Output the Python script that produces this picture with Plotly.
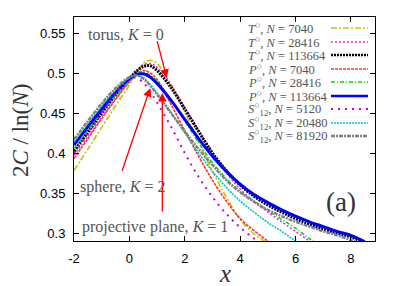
import plotly.graph_objects as go

# ---------------- data ----------------
x_vals = [-2, -1.5, -1, -0.5, 0, 0.25, 0.5, 0.75, 1, 1.5, 2, 2.5, 3, 3.5,
          4, 4.5, 5, 5.5, 6, 6.5, 7, 7.5, 8, 8.5]

def pad(v):
    return v + [None] * (len(x_vals) - len(v))

T_7040 = pad([0.378, 0.405, 0.432, 0.459, 0.485, 0.500, 0.512, 0.516, 0.512, 0.486,
              0.451, 0.414, 0.377, 0.345, 0.317, 0.299, 0.287, 0.276])
T_28416 = pad([0.397, 0.421, 0.445, 0.468, 0.490, 0.501, 0.510, 0.512, 0.507, 0.485,
               0.457, 0.428, 0.400, 0.375, 0.355, 0.339, 0.326, 0.314, 0.302, 0.290, 0.279])
T_113664 = pad([0.402, 0.426, 0.450, 0.473, 0.493, 0.502, 0.508, 0.509, 0.503, 0.482,
                0.455, 0.427, 0.400, 0.378, 0.360, 0.346, 0.335, 0.326, 0.318, 0.311,
                0.305, 0.300, 0.295, 0.288])
P_7040 = pad([0.393, 0.418, 0.443, 0.467, 0.489, 0.498, 0.503, 0.500, 0.492, 0.461,
              0.428, 0.396, 0.366, 0.340, 0.318, 0.303, 0.290, 0.279])
P_28416 = pad([0.405, 0.428, 0.451, 0.472, 0.490, 0.498, 0.501, 0.497, 0.489, 0.466,
               0.440, 0.413, 0.388, 0.368, 0.352, 0.340, 0.328, 0.317, 0.306, 0.293, 0.282])
P_113664 = pad([0.410, 0.433, 0.455, 0.476, 0.493, 0.498, 0.499, 0.495, 0.487, 0.466,
                0.442, 0.418, 0.396, 0.377, 0.361, 0.348, 0.338, 0.329, 0.321, 0.314,
                0.308, 0.302, 0.297, 0.289])
S_5120 = pad([0.400, 0.425, 0.450, 0.474, 0.494, 0.494, 0.488, 0.477, 0.463, 0.433,
              0.400, 0.370, 0.345, 0.324, 0.307, 0.293, 0.281])
S_20480 = pad([0.414, 0.437, 0.459, 0.479, 0.494, 0.497, 0.494, 0.486, 0.475, 0.451,
               0.425, 0.400, 0.377, 0.357, 0.340, 0.326, 0.313, 0.302, 0.290, 0.279])
S_81920 = pad([0.417, 0.440, 0.462, 0.481, 0.495, 0.497, 0.493, 0.484, 0.473, 0.450,
               0.427, 0.405, 0.385, 0.366, 0.351, 0.339, 0.329, 0.321, 0.314, 0.308,
               0.302, 0.297, 0.291, 0.284])

series_names = [
    "<i>T</i><sup>○</sup>, <i>N</i> = 7040",
    "<i>T</i><sup>○</sup>, <i>N</i> = 28416",
    "<i>T</i><sup>○</sup>, <i>N</i> = 113664",
    "<i>P</i><sup>○</sup>, <i>N</i> = 7040",
    "<i>P</i><sup>○</sup>, <i>N</i> = 28416",
    "<i>P</i><sup>○</sup>, <i>N</i> = 113664",
    "<i>S</i><sup>○</sup><sub>12</sub>, <i>N</i> = 5120",
    "<i>S</i><sup>○</sup><sub>12</sub>, <i>N</i> = 20480",
    "<i>S</i><sup>○</sup><sub>12</sub>, <i>N</i> = 81920",
]
series_values = [T_7040, T_28416, T_113664, P_7040, P_28416, P_113664,
                 S_5120, S_20480, S_81920]

x_ticks = [-2, 0, 2, 4, 6, 8]
x_tick_labels = ["-2", "0", "2", "4", "6", "8"]
y_ticks = [0.3, 0.35, 0.4, 0.45, 0.5, 0.55]
y_tick_labels = ["0.3", "0.35", "0.4", "0.45", "0.5", "0.55"]

# ---------------- styles ----------------
styles = [
    dict(color="#c4c400", width=1.6, dash="6px,2px,2px,2px"),
    dict(color="#ff22ff", width=1.6, dash="2px,2px"),
    dict(color="#000000", width=3.0, dash="2px,1px"),
    dict(color="#ff3030", width=1.6, dash="3px,1px"),
    dict(color="#00dd00", width=1.6, dash="4px,2px,1px,2px"),
    dict(color="#0000ff", width=3.0, dash="solid"),
    dict(color="#cc00cc", width=2.0, dash="2px,5px"),
    dict(color="#00c4c4", width=1.6, dash="2px,1px"),
    dict(color="#808080", width=2.4, dash="4px,1px,2px,1px"),
]

fig = go.Figure()
for name, vals, st in zip(series_names, series_values, styles):
    fig.add_trace(go.Scatter(x=x_vals, y=vals, mode="lines", name=name,
                             line=dict(color=st["color"], width=st["width"],
                                       dash=st["dash"], shape="spline"),
                             connectgaps=False, showlegend=False))

L, R, T, B = 74, 375, 17, 241
W, H = 407, 286

def px(xp):
    return (xp - L) / (R - L)

def py(yp):
    return (B - yp) / (B - T)

serif = "Liberation Serif, DejaVu Serif, serif"

# custom legend (text left, line sample right)
row_y = [28, 42, 55, 69, 82, 96, 109, 123, 136]
shapes = []
annotations = []
for name, st, yy in zip(series_names, styles, row_y):
    annotations.append(dict(xref="paper", yref="paper", x=px(246), y=py(yy),
                            xanchor="left", yanchor="middle", showarrow=False,
                            text=name, font=dict(family=serif, size=12.5, color="#555555")))
    shapes.append(dict(type="line", xref="paper", yref="paper",
                       x0=px(331), x1=px(368), y0=py(yy), y1=py(yy),
                       line=dict(color=st["color"], width=min(st["width"], 2.6), dash=st["dash"])))

# arrows (red)
arrows = [((0.99, 0.5416), (1.35, 0.494)),
          ((-0.28, 0.376), (0.75, 0.481)),
          ((1.19, 0.325), (1.19, 0.475))]
for (x0, y0), (x1, y1) in arrows:
    annotations.append(dict(x=x1, y=y1, ax=x0, ay=y0, xref="x", yref="y",
                            axref="x", ayref="y", text="", showarrow=True,
                            arrowhead=2, arrowsize=1.3, arrowwidth=1.3,
                            arrowcolor="#ff0000"))

label_font = dict(family=serif, size=16, color="#555555")
annotations += [
    dict(x=-1.56, y=0.548, xref="x", yref="y", xanchor="left", yanchor="middle",
         text="torus, <i>K</i> = 0", showarrow=False, font=label_font),
    dict(x=-1.86, y=0.358, xref="x", yref="y", xanchor="left", yanchor="middle",
         text="sphere, <i>K</i> = 2", showarrow=False, font=label_font),
    dict(x=-1.80, y=0.308, xref="x", yref="y", xanchor="left", yanchor="middle",
         text="projective plane, <i>K</i> = 1", showarrow=False, font=label_font),
    dict(x=7.66, y=0.339, xref="x", yref="y", xanchor="center", yanchor="middle",
         text="(a)", showarrow=False, font=dict(family=serif, size=27, color="#333333")),
    # axis titles
    dict(xref="paper", yref="paper", x=px(224.5), y=py(273), xanchor="center",
         yanchor="middle", text="<i>x</i>", showarrow=False,
         font=dict(family=serif, size=25, color="#333333")),
    dict(xref="paper", yref="paper", x=px(20), y=py(131), xanchor="center",
         yanchor="middle", text="2<i>C</i> / ln(<i>N</i>)", showarrow=False,
         textangle=-90, font=dict(family=serif, size=23, color="#333333")),
]

axis_common = dict(showgrid=False, zeroline=False, showline=True, linecolor="#000000",
                   linewidth=1, mirror="allticks", ticks="inside", ticklen=5,
                   tickcolor="#000000", automargin=False,
                   tickfont=dict(family="Liberation Sans, Arial, sans-serif",
                                 size=13, color="#000000"))

fig.update_layout(
    width=W, height=H,
    margin=dict(l=L, r=W - R, t=T, b=H - B, pad=0),
    paper_bgcolor="white", plot_bgcolor="white",
    showlegend=False,
    xaxis=dict(range=[-2, 8.87], tickvals=x_ticks, ticktext=x_tick_labels,
               ticklabelstandoff=5, **axis_common),
    yaxis=dict(range=[0.29, 0.57], tickvals=y_ticks, ticktext=y_tick_labels,
               ticklabelstandoff=5, **axis_common),
    shapes=shapes,
    annotations=annotations,
)

fig.write_html("out.html", config={"displayModeBar": False},
               post_script="document.body.style.margin='0';document.body.style.padding='0';")
